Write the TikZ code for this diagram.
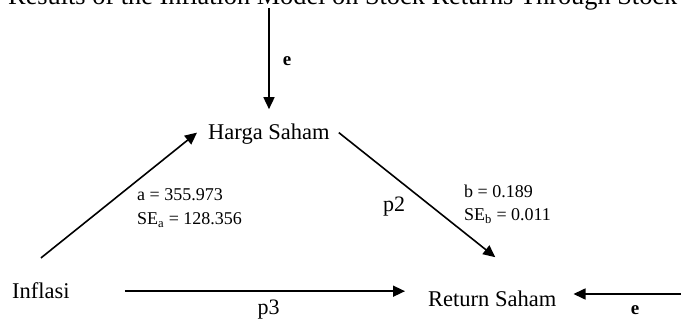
\documentclass[tikz,border=0pt]{standalone}
\usepackage{fontspec}
\setmainfont{Liberation Serif}
\usetikzlibrary{arrows.meta,calc}
\begin{document}
\begin{tikzpicture}[x=1pt,y=-1pt,
  lbl/.style={inner sep=0pt,anchor=base west,font=\fontsize{22.5}{27}\selectfont},
  coef/.style={inner sep=0pt,align=left,anchor=north west,font=\fontsize{18}{23.5}\selectfont},
  pth/.style={inner sep=0pt,anchor=base,font=\fontsize{22}{26}\selectfont},
  err/.style={inner sep=0pt,anchor=base,font=\bfseries\fontsize{19}{22}\selectfont},
  arr/.style={line width=1.6pt,-{Triangle[length=12pt,width=11pt]}}]
\useasboundingbox (0,0) rectangle (681,320);
% title (cropped at the top)
\node[inner sep=0pt,anchor=base west] (title) at (8,5)
  {\resizebox{669pt}{!}{Results of the Inflation Model on Stock Returns Through Stock}};
% main nodes
\node[lbl] (harga) at (208,140) {Harga Saham};
\node[lbl] (inflasi) at (12,299) {Inflasi};
\node[lbl] (ret) at (428,307) {Return Saham};
% coefficient labels
\node[coef] (coefa) at (137,188.8) {a = 355.973\\SE\textsubscript{a} = 128.356};
\node[coef] (coefb) at (464,184.7) {b = 0.189\\SE\textsubscript{b} = 0.011};
\node[pth] (p2) at (394,212) {p2};
\node[pth] (p3) at (268.5,315) {p3};
\node[err] (etxt1) at (287,66) {e};
\node[err] (etxt2) at (635,315) {e};
% free ends
\coordinate (etop) at (269,8);
\coordinate (eright) at (681,294);
\coordinate (hstart) at ([xshift=55pt]inflasi.east);
% connectors
\draw[arr,shorten >=15pt] (etop) -- (etop |- harga.north);
\draw[arr] ([yshift=25pt]inflasi.north) -- ([xshift=-11pt,yshift=2pt]harga.west);
\draw[arr] ([xshift=9pt,yshift=2pt]harga.east) -- ([xshift=3pt,yshift=34pt]ret.north);
\draw[arr,shorten >=23pt] (hstart) -- (hstart -| ret.west);
\draw[arr,shorten >=17pt] (eright) -- (eright -| ret.east);
\end{tikzpicture}
\end{document}
